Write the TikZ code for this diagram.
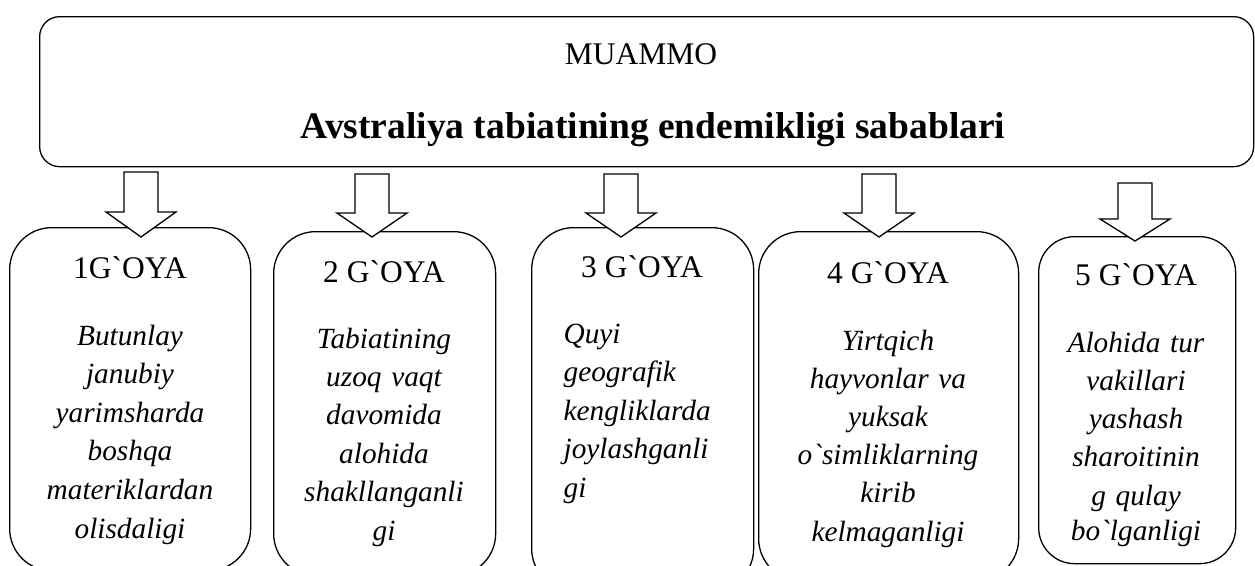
\documentclass[tikz,border=0pt]{standalone}
\usepackage{fontspec}
\setmainfont{Liberation Serif}[Ligatures=TeXOff]
\newcommand\blockarrow[4]{% cx, top, head, tip
  \draw[barrow] (#1-17,#2) -- (#1+17,#2) -- (#1+17,#3) -- (#1+35,#3) -- (#1,#4) -- (#1-35,#3) -- (#1-17,#3) -- cycle;}
\begin{document}
\begin{tikzpicture}[x=1pt,y=-1pt,line width=1.3pt,
  idea/.style={draw, rounded corners=42pt, anchor=north west, inner sep=0pt},
  prob/.style={draw, rounded corners=20pt, anchor=north west, inner sep=0pt},
  hd/.style={font=\fontsize{31.5}{36}\selectfont, anchor=base, inner sep=0pt},
  body/.style={font=\fontsize{29.3}{38.4}\selectfont\itshape, anchor=base, align=center, text width=250pt, inner sep=0pt},
  bodyl/.style={font=\fontsize{29.3}{38.5}\selectfont\itshape, anchor=base west, align=left, text width=190pt, inner sep=0pt},
  barrow/.style={draw, fill=white, line width=1.3pt, line join=miter}]
\useasboundingbox (0,0) rectangle (1255,565);
\begin{scope}
\clip (0,0) rectangle (1255,565);
% problem box
\node[prob, minimum width=1214pt, minimum height=150pt] (p) at (39,16) {};
\node[font=\fontsize{31.5}{36}\selectfont, anchor=base, inner sep=0pt] (pm) at (641,64) {MUAMMO};
\node[font=\fontsize{37.5}{44}\selectfont\bfseries, anchor=base, inner sep=0pt] (pt) at (653,138) {Avstraliya tabiatining endemikligi sabablari};
% idea boxes
\node[idea, minimum width=241pt, minimum height=343pt] (i1) at (9,227) {};
\node[idea, minimum width=222pt, minimum height=344pt] (i2) at (273,231) {};
\node[idea, minimum width=222pt, minimum height=363pt] (i3) at (531,227) {};
\node[idea, minimum width=260pt, minimum height=349pt] (i4) at (758,231) {};
\node[idea, rounded corners=36pt, minimum width=197pt, minimum height=327pt] (i5) at (1038,236) {};
% headings
\node[hd] (h1) at (130,278) {1G`OYA};
\node[hd] (h2) at (384,282) {2 G`OYA};
\node[hd] (h3) at (642,277) {3 G`OYA};
\node[hd] (h4) at (888,283) {4 G`OYA};
\node[hd] (h5) at (1136,285) {5 G`OYA};
% bodies
\node[body, font=\fontsize{29.3}{38.6}\selectfont\itshape] (b1) at (130,345) {Butunlay\\ janubiy\\ yarimsharda\\ boshqa\\ materiklardan\\ olisdaligi};
\node[body] (b2) at (384,348) {Tabiatining\\ uzoq vaqt\\ davomida\\ alohida\\ shakllanganli\\ gi};
\node[bodyl] (b3) at (563,343) {Quyi\\ geografik\\ kengliklarda\\ joylashganli\\ gi};
\node[body, font=\fontsize{29.3}{38.2}\selectfont\itshape] (b4) at (888,350) {Yirtqich\\ hayvonlar va\\ yuksak\\ o`simliklarning\\ kirib\\ kelmaganligi};
\begin{scope}
\clip (1038,236) rectangle (1235,548);
\node[body, font=\fontsize{29.3}{38.3}\selectfont\itshape] (b5) at (1136,352) {Alohida tur\\ vakillari\\ yashash\\ sharoitinin\\ g qulay\\[-3pt] bo`lganligi};
\end{scope}
% block arrows (problem -> ideas)
\blockarrow{141}{172}{212}{237}
\blockarrow{372}{174}{213}{237}
\blockarrow{621}{174}{213}{237}
\blockarrow{879}{174}{213}{237}
\blockarrow{1135}{183}{219}{241}
\end{scope}
\end{tikzpicture}
\end{document}
